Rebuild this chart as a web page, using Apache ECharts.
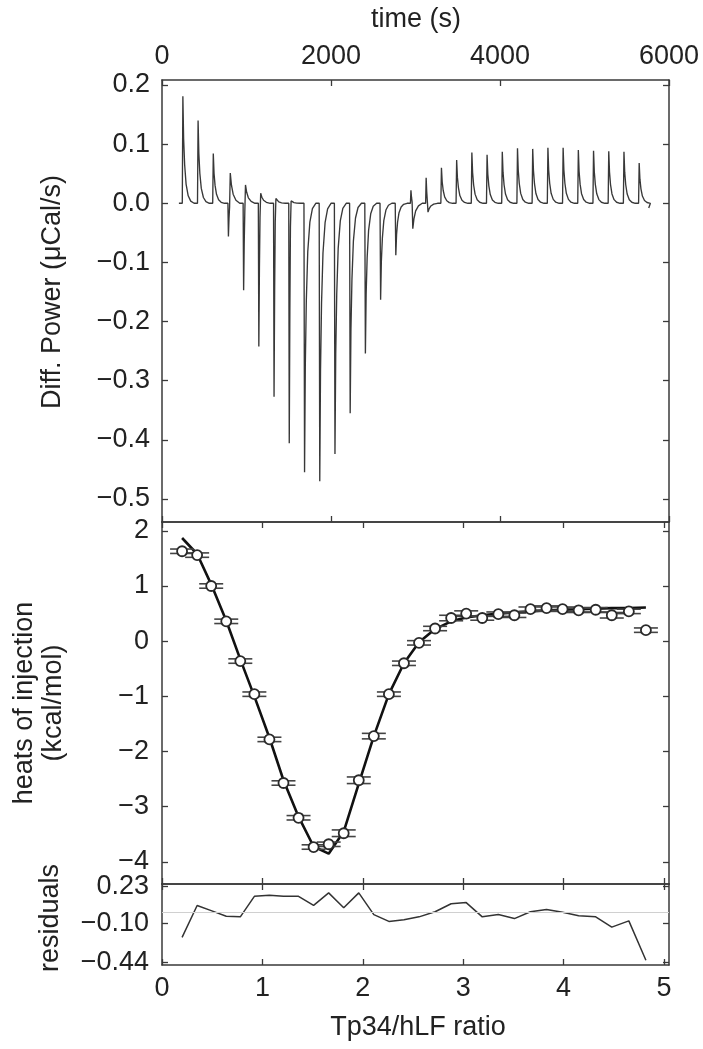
<!DOCTYPE html>
<html>
<head>
<meta charset="utf-8">
<script src="https://cdn.jsdelivr.net/npm/echarts@6/dist/echarts.min.js"></script>
<style>
html,body{margin:0;padding:0;background:#fff;}
#c{width:703px;height:1049px;}
</style>
</head>
<body>
<div id="c"></div>
<script>
// ---- Data ----
// Top panel: injection times (s) and peak extremes (µCal/s)
const injTime = [240,420,600,780,960,1140,1320,1500,1680,1860,2040,2220,2400,2580,2760,2940,3120,3300,3480,3660,3840,4020,4200,4380,4560,4740,4920,5100,5280,5460,5640];
const peakMain = [0.181,0.140,0.084,-0.056,-0.147,-0.242,-0.327,-0.406,-0.455,-0.470,-0.424,-0.355,-0.254,-0.163,-0.088,0.022,0.043,0.060,0.073,0.086,0.082,0.087,0.093,0.092,0.094,0.094,0.090,0.089,0.088,0.087,0.068];
const peakSecond = [0,0,0,0.051,0.031,0.017,0.008,0.004,0,0,0,0,0,0,0,-0.043,-0.015,0,0,0,0,0,0,0,0,0,0,0,0,0,0];
const traceStart = [200, 0];
const traceEnd = [5760, -0.008];

// Middle panel: molar ratio, integrated heats (kcal/mol), error, fit
const ratio = [0.20,0.35,0.49,0.64,0.78,0.92,1.07,1.21,1.36,1.51,1.66,1.81,1.96,2.11,2.26,2.41,2.56,2.72,2.88,3.03,3.19,3.35,3.51,3.67,3.83,3.99,4.15,4.32,4.48,4.65,4.82];
const heat = [1.63,1.56,1.00,0.36,-0.36,-0.96,-1.78,-2.57,-3.20,-3.73,-3.68,-3.48,-2.52,-1.72,-0.96,-0.40,-0.03,0.23,0.42,0.50,0.42,0.49,0.47,0.58,0.60,0.58,0.56,0.57,0.47,0.54,0.20];
const heatErr = [0.04,0.04,0.04,0.04,0.04,0.04,0.04,0.04,0.04,0.04,0.04,0.06,0.06,0.05,0.04,0.04,0.04,0.04,0.05,0.05,0.04,0.04,0.04,0.04,0.04,0.04,0.04,0.04,0.05,0.04,0.04];
const fit = [1.87,1.58,1.03,0.37,-0.33,-1.00,-1.75,-2.52,-3.18,-3.72,-3.85,-3.45,-2.58,-1.72,-0.96,-0.40,-0.02,0.22,0.36,0.43,0.47,0.50,0.52,0.54,0.56,0.57,0.58,0.59,0.60,0.60,0.61];

// Bottom panel: residuals
const residual = [-0.22,0.06,0.015,-0.035,-0.04,0.14,0.15,0.14,0.14,0.06,0.17,0.04,0.17,-0.02,-0.08,-0.065,-0.04,0.005,0.075,0.085,-0.04,-0.02,-0.055,0.005,0.025,0.0,-0.03,-0.04,-0.13,-0.075,-0.42];

// Tick labels
const timeTicks = [0,2000,4000,6000];
const powerTicks = [0.2,0.1,0,-0.1,-0.2,-0.3,-0.4,-0.5];
const heatTicks = [2,1,0,-1,-2,-3,-4];
const resTicks = [0.23,-0.10,-0.44];
const ratioTicks = [0,1,2,3,4,5];

// ---- Build the thermogram trace from the peak values ----
function peakShape(t0, A, B) {
  if (B === 0) {
    return [[t0,0],[t0+7,A],[t0+16,0.6*A],[t0+28,0.36*A],[t0+45,0.18*A],[t0+70,0.07*A],[t0+100,0.02*A],[t0+140,0]];
  }
  return [[t0,0],[t0+6,A],[t0+13,0.45*A],[t0+20,0.1*A],[t0+28,B],[t0+42,0.6*B],[t0+62,0.3*B],[t0+95,0.1*B],[t0+140,0]];
}
const trace = [traceStart];
injTime.forEach((t, i) => { peakShape(t, peakMain[i], peakSecond[i]).forEach(p => trace.push(p)); });
trace.push(traceEnd);

const minus = s => String(s).replace('-', '\u2212');
const FONT = '"Liberation Sans", Arial, Helvetica, sans-serif';
const TXT = '#222';
const AX = '#3a3a3a';
const FS = 27;

function axisBase(extra) {
  return Object.assign({
    type: 'value',
    axisLine: { show: true, onZero: false, lineStyle: { color: AX, width: 1.5 } },
    axisTick: { show: true, inside: true, length: 6, lineStyle: { color: AX, width: 1.3 } },
    splitLine: { show: false },
    axisLabel: { show: false }
  }, extra);
}
function labels(vals, fmt, margin) {
  return { show: true, customValues: vals, formatter: fmt, fontSize: FS, fontFamily: FONT, color: TXT, margin: margin,
           showMinLabel: true, showMaxLabel: true, hideOverlap: false };
}
function ticks(vals) {
  return { show: true, inside: true, length: 6, customValues: vals, lineStyle: { color: AX, width: 1.3 } };
}

const chart = echarts.init(document.getElementById('c'), null, { renderer: 'canvas' });
const GL = 162, GW = 507;
const option = {
  animation: false,
  backgroundColor: '#fff',
  grid: [
    { left: GL, top: 80, width: GW, height: 442 },
    { left: GL, top: 522, width: GW, height: 362 },
    { left: GL, top: 884, width: GW, height: 81 }
  ],
  xAxis: [
    axisBase({ gridIndex: 0, position: 'top', min: 0, max: 6000, axisTick: ticks(timeTicks),
               axisLabel: labels(timeTicks, v => String(v), 10) }),
    axisBase({ gridIndex: 0, position: 'bottom', min: 0, max: 6000, axisTick: ticks(timeTicks) }),
    axisBase({ gridIndex: 1, position: 'top', min: 0, max: 5.05, axisTick: ticks(ratioTicks) }),
    axisBase({ gridIndex: 1, position: 'bottom', min: 0, max: 5.05, axisTick: ticks(ratioTicks) }),
    axisBase({ gridIndex: 2, position: 'top', min: 0, max: 5.05, axisTick: ticks(ratioTicks) }),
    axisBase({ gridIndex: 2, position: 'bottom', min: 0, max: 5.05, axisTick: ticks(ratioTicks),
               axisLabel: labels(ratioTicks, v => String(v), 10) })
  ],
  yAxis: [
    axisBase({ gridIndex: 0, position: 'left', min: -0.539, max: 0.2085, axisTick: ticks(powerTicks),
               axisLabel: labels(powerTicks, v => minus(v.toFixed(1)), 12) }),
    axisBase({ gridIndex: 0, position: 'right', min: -0.539, max: 0.2085, axisTick: ticks(powerTicks) }),
    axisBase({ gridIndex: 1, position: 'left', min: -4.4, max: 2.16, axisTick: ticks(heatTicks),
               axisLabel: labels(heatTicks, v => minus(Math.round(v)), 13) }),
    axisBase({ gridIndex: 1, position: 'right', min: -4.4, max: 2.16, axisTick: ticks(heatTicks) }),
    axisBase({ gridIndex: 2, position: 'left', min: -0.462, max: 0.248, axisTick: ticks(resTicks),
               axisLabel: labels(resTicks, v => minus(v.toFixed(2)), 13) }),
    axisBase({ gridIndex: 2, position: 'right', min: -0.462, max: 0.248, axisTick: ticks(resTicks) })
  ],
  series: [
    {
      type: 'line', xAxisIndex: 0, yAxisIndex: 0, data: trace, showSymbol: false, symbol: 'none',
      lineStyle: { color: '#383838', width: 1.35 }, z: 2
    },
    {
      type: 'line', xAxisIndex: 2, yAxisIndex: 2, data: ratio.map((r, i) => [r, fit[i]]),
      showSymbol: false, symbol: 'none', lineStyle: { color: '#111', width: 2.6 }, z: 2
    },
    {
      type: 'custom', xAxisIndex: 2, yAxisIndex: 2, z: 3,
      data: ratio.map((r, i) => [r, heat[i], heatErr[i]]),
      renderItem: function (params, api) {
        const x = api.value(0), y = api.value(1), e = api.value(2);
        const p1 = api.coord([x, y + e]), p2 = api.coord([x, y - e]);
        const hw = 12;
        const st = { stroke: '#444', lineWidth: 1.6 };
        return { type: 'group', children: [
          { type: 'line', shape: { x1: p1[0] - hw, y1: p1[1], x2: p1[0] + hw, y2: p1[1] }, style: st },
          { type: 'line', shape: { x1: p2[0] - hw, y1: p2[1], x2: p2[0] + hw, y2: p2[1] }, style: st },
          { type: 'line', shape: { x1: p1[0], y1: p1[1], x2: p2[0], y2: p2[1] }, style: st }
        ]};
      }
    },
    {
      type: 'scatter', xAxisIndex: 2, yAxisIndex: 2, data: ratio.map((r, i) => [r, heat[i]]),
      symbol: 'circle', symbolSize: 10,
      itemStyle: { color: '#ffffff', opacity: 1, borderColor: '#2a2a2a', borderWidth: 1.8 }, z: 4
    },
    {
      type: 'line', xAxisIndex: 4, yAxisIndex: 4, data: ratio.map((r, i) => [r, residual[i]]),
      showSymbol: false, symbol: 'none', lineStyle: { color: '#333', width: 1.5 }, z: 3,
      markLine: { silent: true, symbol: 'none', label: { show: false },
                  lineStyle: { color: '#d0d0d0', width: 1, type: 'solid' }, data: [{ yAxis: 0 }] }
    }
  ],
  graphic: [
    { type: 'text', x: 416, y: 20, style: { text: 'time (s)', font: FS + 'px ' + FONT, fill: TXT, align: 'center', verticalAlign: 'middle' } },
    { type: 'text', x: 53, y: 292, rotation: Math.PI / 2, style: { text: 'Diff. Power (\u03bcCal/s)', font: FS + 'px ' + FONT, fill: TXT, align: 'center', verticalAlign: 'middle' } },
    { type: 'text', x: 39, y: 703, rotation: Math.PI / 2, style: { text: 'heats of injection\n(kcal/mol)', font: FS + 'px ' + FONT, lineHeight: 29, fill: TXT, align: 'center', verticalAlign: 'middle' } },
    { type: 'text', x: 51, y: 918, rotation: Math.PI / 2, style: { text: 'residuals', font: FS + 'px ' + FONT, fill: TXT, align: 'center', verticalAlign: 'middle' } },
    { type: 'text', x: 418, y: 1028, style: { text: 'Tp34/hLF ratio', font: FS + 'px ' + FONT, fill: TXT, align: 'center', verticalAlign: 'middle' } }
  ]
};
chart.setOption(option);
</script>
</body>
</html>
